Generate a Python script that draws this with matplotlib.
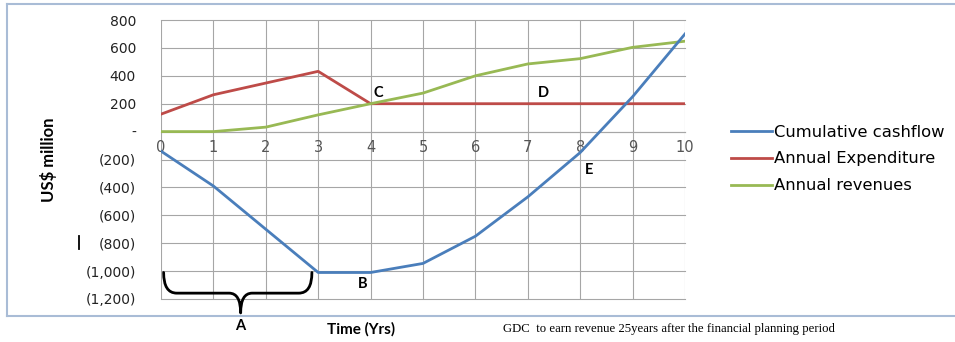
import matplotlib.pyplot as plt
from matplotlib.path import Path
from matplotlib.patches import PathPatch
from matplotlib.lines import Line2D
from matplotlib.ticker import FuncFormatter

YEARS = [0, 1, 2, 3, 4, 5, 6, 7, 8, 9, 10]
CUMULATIVE_CASHFLOW = [-140, -390, -700, -1010, -1010, -945, -750, -468, -150, 250, 700]
ANNUAL_EXPENDITURE = [125, 264, 348, 432, 200, 200, 200, 200, 200, 200, 200]
ANNUAL_REVENUES = [0, 0, 32, 120, 200, 276, 400, 485, 523, 604, 648]
Y_TICKS = [800, 600, 400, 200, 0, -200, -400, -600, -800, -1000, -1200]

BLUE = "#4a7ebb"
RED = "#be4b48"
GREEN = "#98b954"
GRID = "#a6a6a6"
FRAME = "#a9bcd6"
LABEL_FONT = ["Lato", "DejaVu Sans"]


def fmt_accounting(v, pos):
    if v == 0:
        return "-"
    if v < 0:
        return f"({abs(v):,.0f})"
    return f"{v:,.0f}"


fig = plt.figure(figsize=(9.55, 3.42), dpi=100)
ax = fig.add_axes([161 / 955, 1 - 299 / 342, 524 / 955, 279 / 342])

ax.plot(YEARS, CUMULATIVE_CASHFLOW, color=BLUE, lw=2, label="Cumulative cashflow", zorder=4)
ax.plot(YEARS, ANNUAL_EXPENDITURE, color=RED, lw=2, label="Annual Expenditure", zorder=3)
ax.plot(YEARS, ANNUAL_REVENUES, color=GREEN, lw=2, label="Annual revenues", zorder=3)

ax.set_xlim(0, 10)
ax.set_ylim(-1200, 800)
ax.set_xticks(YEARS)
ax.set_yticks(Y_TICKS)
ax.yaxis.set_major_formatter(FuncFormatter(fmt_accounting))
ax.grid(True, color=GRID, lw=0.8)
ax.set_axisbelow(True)
for gl in ax.get_xgridlines() + ax.get_ygridlines():
    gl.set_clip_on(False)

for side in ["top", "right", "left"]:
    ax.spines[side].set_visible(False)
ax.spines["bottom"].set_position(("data", 0))
ax.spines["bottom"].set_color(GRID)
ax.spines["bottom"].set_linewidth(0.8)
ax.tick_params(axis="x", length=0, pad=6, labelsize=10.5, labelcolor="#555555")
ax.tick_params(axis="y", length=0, pad=18, labelsize=10, labelcolor="#222222")

fig.text(48 / 955, 1 - 160 / 342, "US$ million", rotation=90, fontsize=12,
         fontweight="bold", family=LABEL_FONT, ha="center", va="center")

# curly brace under the first three years
verts = [
    (0.05, -1010), (0.05, -1158), (0.3, -1158),
    (1.3, -1158),
    (1.52, -1158), (1.52, -1300),
    (1.52, -1158), (1.74, -1158),
    (2.63, -1158),
    (2.88, -1158), (2.88, -1010),
]
codes = [Path.MOVETO, Path.CURVE3, Path.CURVE3, Path.LINETO,
         Path.CURVE3, Path.CURVE3, Path.CURVE3, Path.CURVE3,
         Path.LINETO, Path.CURVE3, Path.CURVE3]
ax.add_patch(PathPatch(Path(verts, codes), fill=False, lw=2, color="black",
                       clip_on=False, zorder=5, capstyle="round", joinstyle="round"))

letter_kw = dict(fontsize=10.5, fontweight="bold", family=LABEL_FONT,
                 ha="center", va="center", clip_on=False)
ax.text(1.51, -1390, "A", **letter_kw)
ax.text(3.85, -1089, "B", **letter_kw)
ax.text(4.14, 278, "C", **letter_kw)
ax.text(7.29, 278, "D", **letter_kw)
ax.text(8.17, -276, "E", **letter_kw)

ax.legend(loc="center left", bbox_to_anchor=(716 / 955, 1 - 159 / 342),
          bbox_transform=fig.transFigure, frameon=False, fontsize=11.8,
          handlelength=2.5, handletextpad=0.12, labelspacing=0.72)

fig.text(361 / 955, 1 - 329 / 342, "Time (Yrs)", fontsize=11, fontweight="bold",
         family=LABEL_FONT, ha="center", va="center")
fig.text(669 / 955, 1 - 329 / 342,
         "GDC  to earn revenue 25years after the financial planning period",
         fontsize=9.2, family="Liberation Serif", ha="center", va="center")

# outer frame and stray mark
fig.add_artist(Line2D([7 / 955, 1], [1 - 3.5 / 342] * 2, color=FRAME, lw=1.5))
fig.add_artist(Line2D([7 / 955, 1], [1 - 316 / 342] * 2, color=FRAME, lw=1.5))
fig.add_artist(Line2D([7 / 955] * 2, [1 - 3.5 / 342, 1 - 316 / 342], color=FRAME, lw=1.5))
fig.add_artist(Line2D([79 / 955] * 2, [1 - 236 / 342, 1 - 249 / 342], color="black", lw=1.3))

fig.savefig("out.png", dpi=100)
